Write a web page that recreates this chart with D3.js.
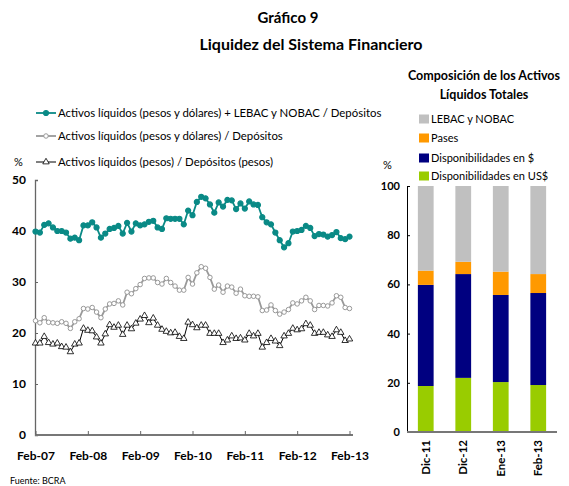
<!DOCTYPE html>
<html>
<head>
<meta charset="utf-8">
<script src="https://cdn.jsdelivr.net/npm/d3@7"></script>
<style>
  body { margin: 0; background: #fff; }
  text { font-family: Lato, 'Open Sans', sans-serif; }
</style>
</head>
<body>
<svg id="chart" width="569" height="486"></svg>
<script>
// monthly series, Feb-07 .. Feb-13 (73 points)
const yearLabels = ['Feb-07', 'Feb-08', 'Feb-09', 'Feb-10', 'Feb-11', 'Feb-12', 'Feb-13'];
const liqTotal = [39.9, 39.7, 41.2, 41.5, 40.7, 40.0, 40.0, 39.7, 38.5, 38.7, 38.2, 41.1, 41.1,
  41.7, 40.7, 38.7, 39.5, 40.4, 40.6, 41.0, 39.5, 41.6, 39.9, 41.5, 41.1, 41.3, 41.8, 42.0,
  40.7, 40.4, 42.5, 42.4, 42.4, 42.4, 41.3, 44.0, 43.1, 45.7, 46.7, 46.4, 45.2, 43.6, 45.6,
  44.8, 46.1, 46.0, 44.3, 45.4, 44.4, 45.8, 45.2, 45.1, 42.7, 41.7, 41.3, 39.7, 38.2, 36.8,
  37.6, 39.9, 40.0, 40.2, 41.0, 40.6, 39.0, 39.4, 39.3, 38.9, 39.2, 39.8, 38.6, 38.4, 38.9];
const liqPesosDol = [22.4, 22.0, 23.0, 22.1, 22.0, 21.9, 22.2, 21.9, 20.9, 22.2, 22.8, 24.8, 24.7,
  25.0, 24.1, 23.0, 24.7, 25.7, 25.8, 26.3, 25.5, 28.0, 27.7, 28.7, 29.5, 30.7, 30.8, 30.8,
  29.9, 29.6, 30.7, 29.9, 29.2, 28.4, 28.4, 30.9, 29.6, 31.8, 33.0, 32.7, 30.9, 28.6, 29.4,
  28.0, 29.2, 29.0, 27.8, 28.6, 27.3, 27.2, 27.2, 27.1, 24.4, 24.5, 25.5, 24.4, 23.7, 24.1,
  24.6, 25.9, 25.7, 26.3, 27.0, 26.3, 24.6, 25.4, 25.4, 25.3, 25.9, 27.3, 27.0, 25.0, 24.8];
const liqPesos = [18.0, 18.0, 19.3, 18.1, 17.8, 18.0, 17.3, 17.2, 16.3, 17.8, 18.0, 20.9, 20.5,
  20.4, 19.2, 18.0, 19.8, 21.6, 21.1, 21.5, 19.7, 21.5, 20.8, 21.9, 22.7, 23.4, 22.0, 22.9,
  21.5, 20.7, 20.3, 20.0, 20.1, 19.3, 18.9, 22.1, 21.6, 21.0, 21.5, 21.5, 19.9, 19.9, 19.9,
  18.1, 18.6, 19.4, 18.9, 19.0, 18.6, 19.9, 19.4, 19.9, 17.2, 18.1, 18.9, 18.4, 17.5, 19.4,
  19.9, 20.9, 20.6, 20.8, 21.8, 21.5, 19.9, 20.1, 20.1, 19.6, 19.3, 20.6, 20.1, 18.5, 18.8];
const leftTicks = [0, 10, 20, 30, 40, 50];

// composition of liquid assets (%)
const barCats = ['Dic-11', 'Dic-12', 'Ene-13', 'Feb-13'];
const dispUSD = [18.7, 22.0, 20.3, 19.1];
const dispARS = [41.1, 42.2, 35.4, 37.4];
const pases = [5.8, 5.0, 9.5, 7.7];
const lebac = [34.4, 30.8, 34.8, 35.8];
const rightTicks = [0, 20, 40, 60, 80, 100];

const svg = d3.select('#chart');

// titles
svg.append('text').attr('x', 288).attr('y', 23).attr('text-anchor', 'middle')
  .style('font-weight', 'bold').style('font-size', '15px').text('Gráfico 9');
svg.append('text').attr('x', 311).attr('y', 50).attr('text-anchor', 'middle')
  .style('font-weight', 'bold').style('font-size', '16px').text('Liquidez del Sistema Financiero');

// ---------- left chart ----------
let x = d3.scaleLinear().domain([0, liqTotal.length - 1]).range([35.5, 349.5]);
let y = d3.scaleLinear().domain([0, 50]).range([435, 180]);

let yAxis = d3.axisLeft(y).tickValues(leftTicks).tickSize(-3).tickPadding(9);
let gy = svg.append('g').attr('transform', 'translate(35,0)').call(yAxis);
gy.select('.domain').attr('stroke', '#666').attr('stroke-width', 1.3);
gy.selectAll('.tick line').attr('stroke', '#666');
gy.selectAll('text').style('font-size', '12px').style('font-weight', 'bold')
  .style('font-family', 'Lato, sans-serif').attr('fill', '#000');

let xAxis = d3.axisBottom(x).tickValues(d3.range(0, 73, 12)).tickSize(-4).tickPadding(16)
  .tickFormat((d, i) => yearLabels[i]);
let gx = svg.append('g').attr('transform', 'translate(0,435)').call(xAxis);
gx.select('.domain').attr('d', 'M35,0H353').attr('stroke', '#777').attr('stroke-width', 2);
gx.selectAll('.tick line').attr('stroke', '#666');
gx.selectAll('text').style('font-size', '12px').style('font-weight', 'bold')
  .style('font-family', 'Lato, sans-serif').attr('fill', '#000');

let line = d3.line().x((d, i) => x(i)).y(d => y(d));

const series = [
  {data: liqPesos, color: '#000', width: 1, sym: d3.symbolTriangle, size: 18, fill: '#fff', sw: 0.8,
    label: 'Activos líquidos (pesos) / Depósitos (pesos)', ly: 162},
  {data: liqPesosDol, color: '#999', width: 1.8, sym: d3.symbolCircle, size: 16, fill: '#fff', sw: 1,
    label: 'Activos líquidos (pesos y dólares) / Depósitos', ly: 136},
  {data: liqTotal, color: '#0a8a86', width: 1.8, sym: d3.symbolCircle, size: 20, fill: '#0a8a86', sw: 1.2,
    label: 'Activos líquidos (pesos y dólares) + LEBAC y NOBAC / Depósitos', ly: 113}
];

series.forEach(s => {
  svg.append('path').attr('d', line(s.data)).attr('fill', 'none')
    .attr('stroke', s.color).attr('stroke-width', s.width);
  svg.append('g').selectAll('path').data(s.data).enter().append('path')
    .attr('transform', (d, i) => 'translate(' + x(i) + ',' + y(d) + ')')
    .attr('d', d3.symbol().type(s.sym).size(s.size))
    .attr('fill', s.fill).attr('stroke', s.color).attr('stroke-width', s.sw);

  // legend entry
  let lg = svg.append('g').attr('transform', 'translate(0,' + s.ly + ')');
  lg.append('line').attr('x1', 36).attr('x2', 56).attr('stroke', s.color).attr('stroke-width', s.width);
  lg.append('path').attr('transform', 'translate(46,0)')
    .attr('d', d3.symbol().type(s.sym).size(s.size))
    .attr('fill', s.fill).attr('stroke', s.color).attr('stroke-width', s.sw);
  lg.append('text').attr('x', 58).attr('y', 4).style('font-size', '11.4px').text(s.label);
});

svg.append('text').attr('x', 14).attr('y', 166).style('font-size', '11px').text('%');

// ---------- right chart ----------
svg.append('text').attr('x', 484).attr('y', 80).attr('text-anchor', 'middle')
  .style('font-weight', 'bold').style('font-size', '12.5px').text('Composición de los Activos');
svg.append('text').attr('x', 484).attr('y', 99).attr('text-anchor', 'middle')
  .style('font-weight', 'bold').style('font-size', '12.5px').text('Líquidos Totales');

const keys = ['usd', 'ars', 'pases', 'lebac'];
const colors = {usd: '#99cc00', ars: '#000080', pases: '#ff9900', lebac: '#c0c0c0'};
const names = {usd: 'Disponibilidades en US$', ars: 'Disponibilidades en $', pases: 'Pases', lebac: 'LEBAC y NOBAC'};
let table = barCats.map((c, i) => ({cat: c, usd: dispUSD[i], ars: dispARS[i], pases: pases[i], lebac: lebac[i]}));
let stacked = d3.stack().keys(keys)(table);

let xb = d3.scaleBand().domain(barCats).range([407, 557]).paddingInner(0.58).paddingOuter(0.29);
let yb = d3.scaleLinear().domain([0, 100]).range([432, 186]);

stacked.forEach(layer => {
  svg.append('g').selectAll('rect').data(layer).enter().append('rect')
    .attr('x', d => xb(d.data.cat))
    .attr('width', xb.bandwidth())
    .attr('y', d => yb(d[1]))
    .attr('height', d => yb(d[0]) - yb(d[1]))
    .attr('fill', colors[layer.key]);
});

let yAxisR = d3.axisLeft(yb).tickValues(rightTicks).tickSize(-3).tickPadding(7);
let gyr = svg.append('g').attr('transform', 'translate(407,0)').call(yAxisR);
gyr.select('.domain').attr('stroke', '#000').attr('stroke-width', 1);
gyr.selectAll('text').style('font-size', '11px').style('font-weight', 'bold')
  .style('font-family', 'Lato, sans-serif').attr('fill', '#000');

let xAxisR = d3.axisBottom(xb).tickSize(0).tickPadding(0);
let gxr = svg.append('g').attr('transform', 'translate(0,432)').call(xAxisR);
gxr.select('.domain').attr('d', 'M407,0H557').attr('stroke', '#777').attr('stroke-width', 2);
gxr.selectAll('text')
  .attr('transform', 'translate(0,8) rotate(-90)')
  .attr('text-anchor', 'end').attr('dy', '0.35em').attr('y', 0).attr('x', 0)
  .style('font-size', '11.5px').style('font-weight', 'bold')
  .style('font-family', 'Lato, sans-serif').attr('fill', '#000');

// right legend
['lebac', 'pases', 'ars', 'usd'].forEach((k, i) => {
  let ly = [119, 138, 158, 176][i];
  svg.append('rect').attr('x', 419).attr('y', ly - 4.5).attr('width', 10).attr('height', 9)
    .attr('fill', colors[k]);
  svg.append('text').attr('x', 431).attr('y', ly + 4).style('font-size', '11px').text(names[k]);
});

svg.append('text').attr('x', 383).attr('y', 169).style('font-size', '11px').text('%');

svg.append('text').attr('x', 10).attr('y', 484).style('font-size', '9px').text('Fuente: BCRA');
</script>
</body>
</html>
